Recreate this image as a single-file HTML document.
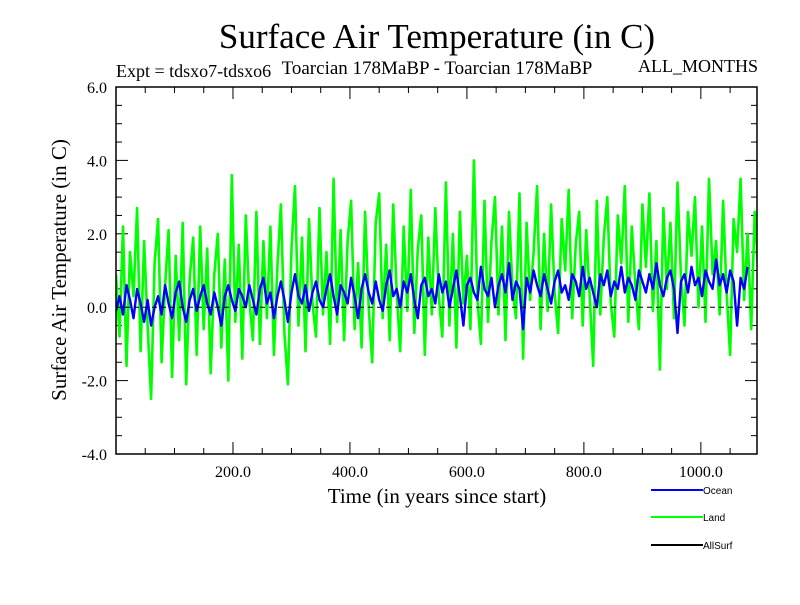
<!DOCTYPE html>
<html><head><meta charset="utf-8"><style>
body{margin:0;background:#fff;}
svg text{font-family:"Liberation Serif",serif;}
svg text.sans{font-family:"Liberation Sans",sans-serif;}
</style></head><body>
<svg id="chart" width="800" height="600" xmlns="http://www.w3.org/2000/svg">
<defs><clipPath id="plotclip"><rect x="116" y="87" width="641" height="367"/></clipPath></defs>
<rect width="800" height="600" fill="#fff"/>
<text x="437" y="48" font-size="35" text-anchor="middle">Surface Air Temperature (in C)</text>
<text x="116" y="77" font-size="18">Expt = tdsxo7-tdsxo6</text>
<text x="437" y="74" font-size="19" text-anchor="middle">Toarcian 178MaBP - Toarcian 178MaBP</text>
<text x="758" y="72" font-size="18" text-anchor="end">ALL_MONTHS</text>
<text transform="translate(66,270) rotate(-90)" font-size="21" text-anchor="middle">Surface Air Temperature (in C)</text>
<text x="437" y="503" font-size="21" text-anchor="middle">Time (in years since start)</text>
<g id="ticks"></g>
<g id="series" clip-path="url(#plotclip)"></g>
<line id="zero" stroke="#000" stroke-dasharray="5,4" stroke-width="1"/>
<rect x="116" y="87" width="641" height="367" fill="none" stroke="#000" stroke-width="1.5"/>
<g>
<line x1="651" y1="490" x2="703" y2="490" stroke="#0000ff" stroke-width="2"/>
<text class="sans" x="703" y="494" font-size="10">Ocean</text>
<line x1="651" y1="517" x2="703" y2="517" stroke="#00ff00" stroke-width="2"/>
<text class="sans" x="703" y="521" font-size="10">Land</text>
<line x1="651" y1="545" x2="703" y2="545" stroke="#000" stroke-width="2"/>
<text class="sans" x="703" y="549" font-size="10">AllSurf</text>
</g>
</svg>
<script>
const xStep = 6;
const xTickLabels = [200, 400, 600, 800, 1000];
const yTickLabels = [-4, -2, 0, 2, 4, 6];
const land = [0.9,-0.8,2.2,-1.6,1.5,0.3,2.7,-1.2,1.8,-0.5,-2.5,1.2,2.4,-1.5,0.6,2.1,-1.9,1.4,-0.9,2.3,-2.1,0.8,1.9,-1.3,2.2,-0.6,1.6,-1.8,0.9,2.0,-1.1,1.3,-2.0,3.6,-0.4,1.7,-1.4,2.5,0.2,-0.9,2.6,-1.0,1.8,-0.3,2.2,-1.3,1.1,2.8,-0.7,-2.1,1.6,3.3,-0.5,1.9,-1.2,2.4,0.1,-0.8,2.7,-0.2,1.5,-1.0,3.5,-0.4,2.1,-0.9,1.8,2.9,-0.6,1.2,-1.1,2.6,0.0,-1.5,2.3,3.1,-0.3,1.7,-0.9,2.8,0.4,-1.2,2.2,-0.1,3.2,-0.7,1.6,2.5,-1.3,1.9,-0.2,2.7,0.3,-0.8,3.4,-0.5,2.0,-1.1,2.6,0.1,1.4,-0.6,4.0,0.2,-1.0,2.9,-0.4,1.8,3.0,-0.2,2.2,-0.9,2.6,0.5,-0.3,3.1,-1.4,2.3,0.2,1.5,3.3,-0.6,2.0,-0.1,2.8,0.4,-0.7,2.4,1.0,3.2,-0.3,1.7,2.6,-0.5,2.1,0.3,-1.6,2.9,-0.2,1.9,3.0,0.1,-0.8,2.5,1.2,3.3,-0.4,2.2,0.6,-0.6,2.8,1.1,3.1,-0.1,1.8,-1.7,2.7,0.5,2.3,-0.3,3.4,0.8,-0.5,2.6,1.4,3.0,0.0,2.2,-0.4,3.5,0.9,1.8,-0.2,2.9,0.4,-1.3,2.4,1.5,3.5,0.2,2.0,-0.6,2.6,1.0,2.3];
const ocean = [-0.1,0.3,-0.2,0.6,0.2,-0.3,0.5,0.1,-0.4,0.2,-0.5,0.0,0.3,-0.2,0.6,0.1,-0.3,0.4,0.7,0.0,-0.4,0.2,0.5,-0.1,0.3,0.6,0.1,-0.2,0.4,0.0,-0.5,0.3,0.6,0.2,-0.1,0.5,0.3,0.0,0.6,0.2,-0.2,0.5,0.8,0.1,0.4,-0.3,0.3,0.7,0.2,-0.4,0.4,0.9,0.3,0.1,0.6,-0.1,0.4,0.7,0.2,0.0,0.5,0.9,0.3,-0.2,0.6,0.4,0.1,0.8,0.3,-0.3,0.5,0.9,0.4,0.1,0.7,0.2,-0.1,0.6,1.0,0.3,0.5,0.0,0.7,0.4,0.9,0.2,-0.3,0.6,0.8,0.3,0.5,0.1,0.9,0.4,0.7,0.0,0.5,1.0,0.3,-0.5,0.6,0.8,0.4,0.2,1.1,0.5,0.3,0.8,0.0,0.6,0.9,0.4,1.2,0.2,0.7,0.5,-0.6,0.8,0.4,1.0,0.6,0.3,0.9,0.5,0.1,0.7,1.0,0.4,0.6,0.2,0.9,0.7,0.3,1.1,0.5,0.8,0.4,0.0,0.9,0.6,1.0,0.3,0.7,0.5,1.1,0.4,0.8,0.6,0.2,1.0,0.7,0.4,0.9,0.5,1.2,0.6,0.3,0.8,1.0,0.5,-0.7,0.7,0.9,0.4,1.1,0.6,0.8,0.3,1.0,0.7,0.5,1.3,0.6,0.9,0.4,1.0,0.7,-0.5,0.8,0.5,1.1];
const X0=116, X1=757, Y0=87, Y1=454, XMAX=1096, YMIN=-4, YMAX=6;
const sx = v => X0 + (v/XMAX)*(X1-X0);
const sy = v => Y1 - (v-YMIN)/(YMAX-YMIN)*(Y1-Y0);
const NS="http://www.w3.org/2000/svg";
const ticks=document.getElementById('ticks'), series=document.getElementById('series');
function mk(tag,attrs,parent){const e=document.createElementNS(NS,tag);for(const k in attrs)e.setAttribute(k,attrs[k]);parent.appendChild(e);return e;}
for(let v=50; v<XMAX; v+=50){
  const major = v%200===0, len = major?12:6;
  const t1=mk('line',{x1:sx(v),x2:sx(v),y1:Y1,y2:Y1-len,stroke:'#000'},ticks);
  
  
  const t2=mk('line',{x1:sx(v),x2:sx(v),y1:Y0,y2:Y0+len,stroke:'#000'},ticks);
  
  
}
xTickLabels.forEach(v=>{
  const t=mk('text',{x:sx(v),y:477,'font-size':16,'text-anchor':'middle'},ticks);
  t.textContent=v.toFixed(1);
  
  
});
for(let v=YMIN+0.5; v<YMAX; v+=0.5){
  const major=Math.abs(v%2)<1e-9, len=major?12:6;
  const t1=mk('line',{x1:X0,x2:X0+len,y1:sy(v),y2:sy(v),stroke:'#000'},ticks);
  
  
  const t2=mk('line',{x1:X1,x2:X1-len,y1:sy(v),y2:sy(v),stroke:'#000'},ticks);
  
  
}
yTickLabels.forEach(v=>{
  const t=mk('text',{x:107,y:sy(v)+6,'font-size':16,'text-anchor':'end'},ticks);
  t.textContent=v.toFixed(1);
  
  
});
const z=document.getElementById('zero');
z.setAttribute('x1',X0);z.setAttribute('x2',X1);z.setAttribute('y1',sy(0));z.setAttribute('y2',sy(0));
function path(arr,color,w,name){
  const d=arr.map((v,i)=>(i?'L':'M')+sx(i*xStep).toFixed(1)+','+sy(v).toFixed(1)).join('');
  const p=mk('path',{d:d,fill:'none',stroke:color,'stroke-width':w,'stroke-linejoin':'round'},series);
  
  
}
path(land,'#00ff00',2.6,'land-series');
path(ocean,'#0000ff',2.4,'ocean-series');
</script>
</body></html>
